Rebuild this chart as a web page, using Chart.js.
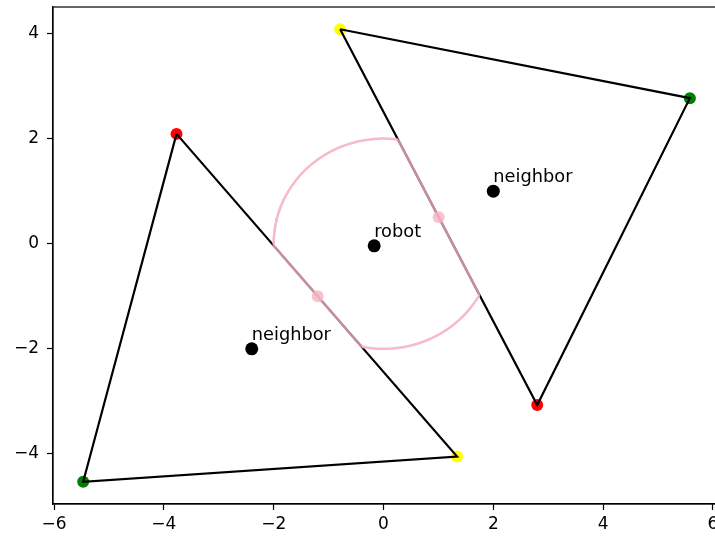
<!DOCTYPE html>
<html><head><meta charset="utf-8">
<script src="https://cdn.jsdelivr.net/npm/chart.js@4"></script>
<style>
html,body{margin:0;padding:0;overflow:hidden;background:#fff;width:715px;height:536px}
#wrap{position:absolute;left:0;top:0;width:726px;height:536px}
</style></head><body>
<div id="wrap"><canvas id="c" width="726" height="536"></canvas></div>
<script>
// ---- data ----
const triangle1X = [-3.77, -5.47, 1.34];
const triangle1Y = [2.09, -4.53, -4.05];
const triangle1Colors = ['red', 'green', 'yellow'];
const triangle2X = [-0.79, 5.58, 2.80];
const triangle2Y = [4.08, 2.77, -3.07];
const triangle2Colors = ['yellow', 'green', 'red'];
const agentNames = ['robot', 'neighbor', 'neighbor'];
const agentX = [-0.17, -2.40, 2.00];
const agentY = [-0.04, -2.00, 1.00];
const circleCenter = [0, 0];
const circleRadius = 2;
const xTicks = [-6, -4, -2, 0, 2, 4, 6];
const yTicks = [-4, -2, 0, 2, 4];
const xRange = [-6.02, 6.12];
const yRange = [-4.952, 4.504];

// ---- geometry: disk clipped by the two yellow-red edges ----
function pts(xs, ys, close) {
  const a = xs.map((x, i) => ({x, y: ys[i]}));
  if (close) a.push({x: xs[0], y: ys[0]});
  return a;
}
const cutLines = [
  [{x: triangle1X[0], y: triangle1Y[0]}, {x: triangle1X[2], y: triangle1Y[2]}],
  [{x: triangle2X[0], y: triangle2Y[0]}, {x: triangle2X[2], y: triangle2Y[2]}]
];
const C = {x: circleCenter[0], y: circleCenter[1]};
function side(l, p) {
  return (l[1].x - l[0].x) * (p.y - l[0].y) - (l[1].y - l[0].y) * (p.x - l[0].x);
}
function inside(p) {
  return cutLines.every(l => side(l, p) * side(l, C) >= -1e-9);
}
function intersect(l) {
  const dx = l[1].x - l[0].x, dy = l[1].y - l[0].y;
  const fx = l[0].x - C.x, fy = l[0].y - C.y;
  const a = dx*dx + dy*dy, b = 2*(fx*dx + fy*dy), c = fx*fx + fy*fy - circleRadius*circleRadius;
  const d = Math.sqrt(b*b - 4*a*c);
  return [(-b - d)/(2*a), (-b + d)/(2*a)].map(t => ({x: l[0].x + t*dx, y: l[0].y + t*dy}));
}
const chords = cutLines.map(intersect);
const chordMids = chords.map(c => ({x: (c[0].x + c[1].x)/2, y: (c[0].y + c[1].y)/2}));
function ang(p) { const t = Math.atan2(p.y - C.y, p.x - C.x); return t < 0 ? t + 2*Math.PI : t; }
let angles = [];
for (let d = 0; d < 360; d += 1) angles.push(d * Math.PI / 180);
chords.forEach(c => c.forEach(p => angles.push(ang(p))));
angles.sort((a, b) => a - b);
const ring = angles.map(t => {
  const p = {x: C.x + circleRadius*Math.cos(t), y: C.y + circleRadius*Math.sin(t)};
  p.ok = inside(p);
  return p;
});
const startIdx = ring.findIndex(p => !p.ok);
const rr = ring.slice(startIdx).concat(ring.slice(0, startIdx));
const arcs = [];
let cur = null;
rr.forEach(p => {
  if (p.ok) { if (!cur) { cur = []; arcs.push(cur); } cur.push({x: p.x, y: p.y}); }
  else cur = null;
});

// ---- datasets ----
const datasets = [];
const pinkLine = 'rgba(246,178,192,0.9)';
arcs.forEach(a => datasets.push({data: a, showLine: true, borderColor: pinkLine, borderWidth: 2.5, pointRadius: 0, order: 1}));
chords.forEach(c => datasets.push({data: c, showLine: true, borderColor: 'rgba(246,178,192,0.8)', borderWidth: 2.5, pointRadius: 0, order: 1}));
datasets.push({data: chordMids, showLine: false, pointRadius: 6, pointBackgroundColor: 'rgba(246,180,194,0.8)', pointBorderWidth: 0, order: 0});
datasets.push({data: pts(triangle1X, triangle1Y, true), showLine: true, borderColor: '#000', borderWidth: 2.2, pointRadius: 0, order: 2});
datasets.push({data: pts(triangle2X, triangle2Y, true), showLine: true, borderColor: '#000', borderWidth: 2.2, pointRadius: 0, order: 2});
datasets.push({data: pts(triangle1X, triangle1Y, false), showLine: false, pointRadius: 6, pointBackgroundColor: triangle1Colors, pointBorderWidth: 0, order: 3});
datasets.push({data: pts(triangle2X, triangle2Y, false), showLine: false, pointRadius: 6, pointBackgroundColor: triangle2Colors, pointBorderWidth: 0, order: 3});
datasets.push({data: pts(agentX, agentY, false), showLine: false, pointRadius: 6.5, pointBackgroundColor: '#000', pointBorderWidth: 0, order: 4});

const FONT = 'DejaVu Sans';
const framePlugin = {
  id: 'frame',
  afterDraw(chart) {
    const {ctx, chartArea: a, scales} = chart;
    ctx.save();
    ctx.strokeStyle = '#000'; ctx.lineWidth = 1.2;
    ctx.strokeRect(a.left, a.top, a.right - a.left, a.bottom - a.top);
    ctx.fillStyle = '#000';
    ctx.font = '17.8px "' + FONT + '"';
    ctx.textAlign = 'left'; ctx.textBaseline = 'alphabetic';
    agentNames.forEach((n, i) => {
      ctx.fillText(n, scales.x.getPixelForValue(agentX[i]), scales.y.getPixelForValue(agentY[i]) - 9);
    });
    ctx.restore();
  }
};
const minus = v => String(v).replace('-', '\u2212');
new Chart(document.getElementById('c'), {
  type: 'scatter',
  data: {datasets},
  options: {
    responsive: false, animation: false, devicePixelRatio: 1,
    layout: {padding: {left: 0, top: 7, right: 6, bottom: 0}},
    plugins: {legend: {display: false}, tooltip: {enabled: false}},
    scales: {
      x: {
        type: 'linear', min: xRange[0], max: xRange[1],
        afterBuildTicks: s => { s.ticks = xTicks.map(v => ({value: v})); },
        afterFit: s => { s.height = 32; s.paddingLeft = 0; s.paddingRight = 0; },
        grid: {drawOnChartArea: false, drawTicks: true, tickLength: 6, tickColor: '#000', tickWidth: 1.2},
        border: {display: true, color: '#000', width: 1.2},
        ticks: {autoSkip: false, maxRotation: 0, color: '#000', padding: 4, font: {family: FONT, size: 17}, callback: v => minus(v)}
      },
      y: {
        type: 'linear', min: yRange[0], max: yRange[1],
        afterBuildTicks: s => { s.ticks = yTicks.map(v => ({value: v})); },
        afterFit: s => { s.width = 53; s.paddingTop = 0; s.paddingBottom = 0; },
        grid: {drawOnChartArea: false, drawTicks: true, tickLength: 6, tickColor: '#000', tickWidth: 1.2},
        border: {display: true, color: '#000', width: 1.2},
        ticks: {autoSkip: false, color: '#000', padding: 8, font: {family: FONT, size: 17}, callback: v => minus(v)}
      }
    }
  },
  plugins: [framePlugin]
});
</script>
</body></html>
